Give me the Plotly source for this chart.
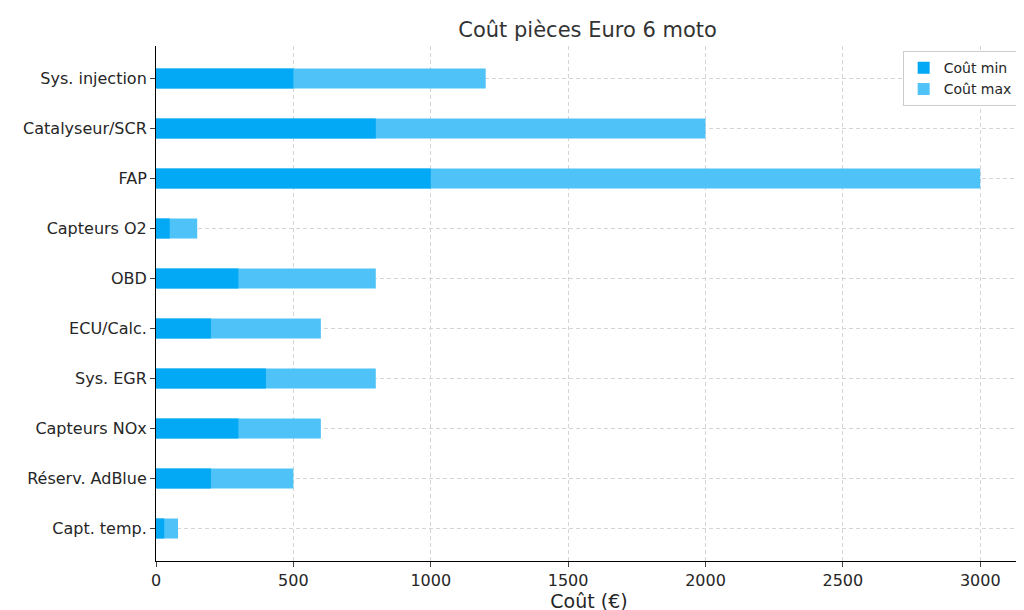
import plotly.graph_objects as go

categories = ["Capt. temp.", "Réserv. AdBlue", "Capteurs NOx", "Sys. EGR", "ECU/Calc.",
              "OBD", "Capteurs O2", "FAP", "Catalyseur/SCR", "Sys. injection"]
cout_min = [30, 200, 300, 400, 200, 300, 50, 1000, 800, 500]
cout_max = [80, 500, 600, 800, 600, 800, 150, 3000, 2000, 1200]

fig = go.Figure()
fig.add_trace(go.Bar(y=categories, x=cout_max, orientation="h", name="Coût max",
                     marker=dict(color="#4FC3F7", line=dict(width=0)), width=0.4, legendrank=2))
fig.add_trace(go.Bar(y=categories, x=cout_min, orientation="h", name="Coût min",
                     marker=dict(color="#03A9F4", line=dict(width=0)), width=0.4, legendrank=1))

fig.update_layout(
    width=1024, height=610, barmode="overlay", plot_bgcolor="white", paper_bgcolor="white",
    font=dict(family="DejaVu Sans", size=16, color="#262626"),
    title=dict(text="Coût pièces Euro 6 moto", x=0.566, xanchor="center", y=0.965,
               yanchor="middle", font=dict(size=21, color="#333")),
    margin=dict(l=148, r=10, t=38, b=57, autoexpand=False),
    xaxis=dict(range=[0, 3152], tickvals=[0, 500, 1000, 1500, 2000, 2500, 3000],
               title=dict(text="Coût (€)", standoff=4), showgrid=True, gridcolor="#d5d5d5",
               griddash="4px,3px", showline=True, linecolor="black", ticks="outside",
               zeroline=False, automargin=False),
    yaxis=dict(range=[-0.65, 9.65], showgrid=True, gridcolor="#d5d5d5", griddash="4px,3px",
               showline=True, linecolor="black", ticks="outside", automargin=False),
    legend=dict(x=0.995, y=0.99, xanchor="right", yanchor="top", bordercolor="#cccccc",
                borderwidth=1, font=dict(size=14)),
)
fig.write_html("out.html")
